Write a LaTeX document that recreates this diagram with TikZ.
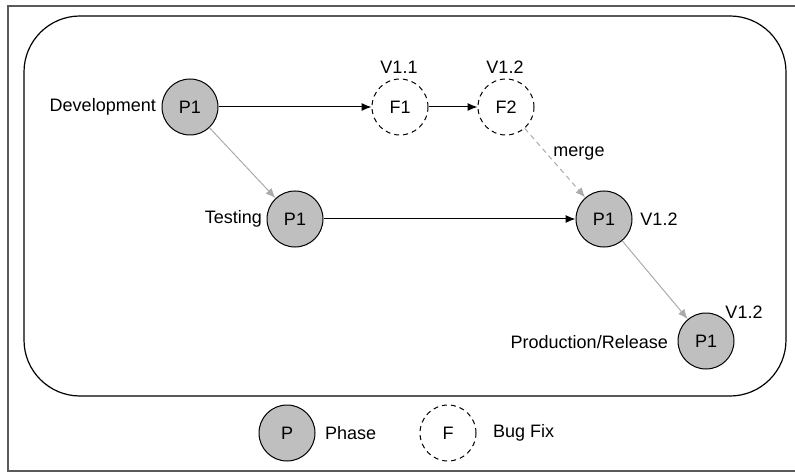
\documentclass[tikz,border=0pt]{standalone}
\usepackage{fontspec}
\setmainfont{Liberation Sans}
\usetikzlibrary{arrows.meta}
\definecolor{phasegray}{HTML}{BFBFBF}
\definecolor{arrgray}{HTML}{ABABAB}
\definecolor{framegray}{HTML}{5A5A5A}
\begin{document}
\begin{tikzpicture}[x=1pt,y=-1pt,
  font=\fontsize{18}{21}\selectfont,
  phase/.style={circle,draw=black,line width=1pt,fill=phasegray,minimum size=56pt,inner sep=0pt},
  bugfix/.style={circle,draw=black,line width=1pt,dash pattern=on 5pt off 4pt,minimum size=56pt,inner sep=0pt},
  lbl/.style={inner sep=0pt},
  blackarrow/.style={-{Latex[length=10pt,width=8pt]},line width=1pt,black},
  grayarrow/.style={-{Latex[length=10pt,width=8pt]},line width=1pt,arrgray},
]
\useasboundingbox (0,0) rectangle (795,473);
% outer frame
\draw[framegray,line width=1.5pt] (795,6) -- (8,6) -- (8,471) -- (795,471);
% rounded container
\draw[line width=1.2pt,rounded corners=56pt] (24,16) rectangle (786,396);

% nodes
\node[phase] (dev) at (190,107) {P1};
\node[lbl,anchor=east] (devlbl) at (156,107) {Development};
\node[bugfix] (f1) at (400,107) {F1};
\node[lbl] (f1v) at (399,67) {V1.1};
\node[bugfix] (f2) at (506,107) {F2};
\node[lbl] (f2v) at (505,67) {V1.2};
\node[phase] (test) at (295,219) {P1};
\node[lbl,anchor=east] (testlbl) at (262,219) {Testing};
\node[phase] (mrg) at (604,219) {P1};
\node[lbl] (mrgv) at (659,219) {V1.2};
\node[lbl] (mergelbl) at (579,154) {merge};
\node[phase] (prod) at (706,341) {P1};
\node[lbl,anchor=east] (prodlbl) at (668,342) {Production/Release};
\node[lbl] (prodv) at (744,312) {V1.2};

% connectors
\draw[blackarrow] (dev) -- (f1);
\draw[blackarrow] (f1) -- (f2);
\draw[grayarrow] (dev) -- (test);
\draw[grayarrow,dash pattern=on 5pt off 4pt] (f2) -- (mrg);
\draw[blackarrow] (test) -- (mrg);
\draw[grayarrow] (mrg) -- (prod);

% legend
\node[phase] (legp) at (287,433) {P};
\node[lbl,anchor=west] (legplbl) at (325,433) {Phase};
\node[bugfix] (legf) at (448,433) {F};
\node[lbl,anchor=west] (legflbl) at (493,433) {Bug Fix};
\end{tikzpicture}
\end{document}
